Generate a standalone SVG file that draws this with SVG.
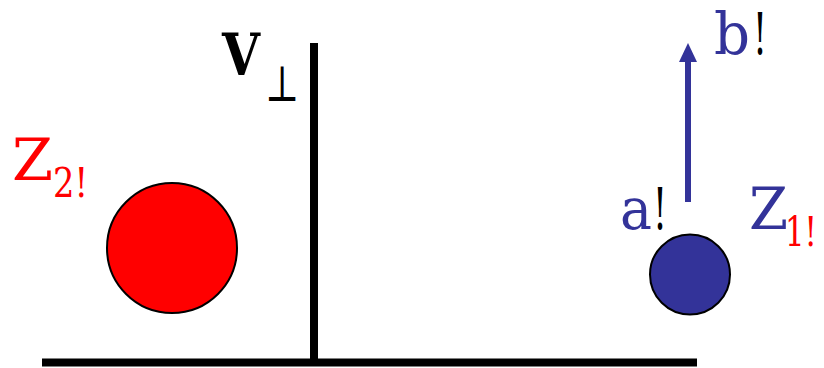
<svg xmlns="http://www.w3.org/2000/svg" width="824" height="368" viewBox="0 0 824 368">
<defs>
<style>
text{font-family:"DejaVu Serif",serif}
.t{font-size:58px}
.s{font-size:41px}
.blue{fill:#333399}
.red{fill:#ff0000}
.blk{fill:#000000}
</style>
</defs>
<g id="axes">
<line x1="42" y1="362.5" x2="697" y2="362.5" stroke="#000" stroke-width="8"/>
<line x1="314" y1="43" x2="314" y2="360" stroke="#000" stroke-width="8"/>
</g>
<g id="label-v">
<text class="t blk" x="222" y="75" font-weight="bold" textLength="38" lengthAdjust="spacingAndGlyphs">V</text>
<text class="blk" x="265" y="101" font-size="50" textLength="34" lengthAdjust="spacingAndGlyphs">⊥</text>
</g>
<g id="z2">
<circle cx="172" cy="248" r="65" fill="#ff0000" stroke="#000" stroke-width="2"/>
<text class="t red" x="12" y="180" textLength="41" lengthAdjust="spacingAndGlyphs">Z</text>
<text class="s red" x="53" y="197" textLength="35" lengthAdjust="spacingAndGlyphs">2!</text>
</g>
<g id="z1">
<circle cx="690" cy="274.5" r="40" fill="#333399" stroke="#000" stroke-width="2"/>
<text class="t blue" x="749" y="229" textLength="39" lengthAdjust="spacingAndGlyphs">Z</text>
<text class="s red" x="785" y="246" textLength="32" lengthAdjust="spacingAndGlyphs">1!</text>
</g>
<g id="connectors">
<line x1="688" y1="202" x2="688" y2="61" stroke="#333399" stroke-width="6"/>
<path d="M679,62 L688,43 L697,62 Z" fill="#333399"/>
</g>
<g id="labels">
<text class="t blue" x="620" y="229" textLength="32" lengthAdjust="spacingAndGlyphs">a</text>
<text class="t blk" x="653" y="229" textLength="14" lengthAdjust="spacingAndGlyphs">!</text>
<text class="t blue" x="714" y="54" textLength="36" lengthAdjust="spacingAndGlyphs">b</text>
<text class="t blk" x="753" y="54" textLength="14" lengthAdjust="spacingAndGlyphs">!</text>
</g>
</svg>
